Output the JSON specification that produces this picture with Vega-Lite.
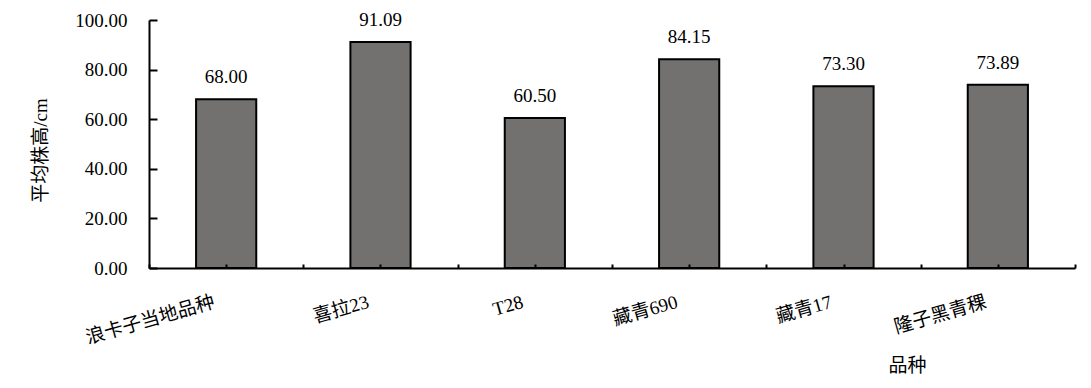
{
  "$schema": "https://vega.github.io/schema/vega-lite/v6.json",
  "width": 926,
  "height": 248,
  "autosize": "none",
  "padding": {"left": 149, "top": 20, "right": 16, "bottom": 120},
  "background": "white",
  "config": {
    "view": {"stroke": null},
    "font": "Liberation Serif, Noto Sans CJK SC"
  },
  "data": {
    "values": [
      {"variety": "浪卡子当地品种", "height": 68.00},
      {"variety": "喜拉23", "height": 91.09},
      {"variety": "T28", "height": 60.50},
      {"variety": "藏青690", "height": 84.15},
      {"variety": "藏青17", "height": 73.30},
      {"variety": "隆子黑青稞", "height": 73.89}
    ]
  },
  "resolve": {"axis": {"x": "independent", "y": "independent"}, "scale": {"x": "independent"}},
  "layer": [
    {
      "mark": {"type": "bar", "fill": "#727170", "stroke": "black", "strokeWidth": 2},
      "encoding": {
        "x": {
          "field": "variety", "type": "nominal", "sort": null,
          "scale": {"paddingInner": 0.61, "paddingOuter": 0.305},
          "axis": {
            "orient": "bottom",
            "zindex": 1,
            "title": "品种",
            "titleFont": "Liberation Serif, Noto Sans CJK SC",
            "titleFontWeight": "normal",
            "titleColor": "black",
            "titleFontSize": 19,
            "titleX": 758,
            "titleY": 97,
            "titleAlign": "center",
            "titleBaseline": "middle",
            "titleAngle": 0,
            "labelFont": "Liberation Serif, Noto Sans CJK SC",
            "labelColor": "black",
            "labelFontSize": 19,
            "labelAngle": -16,
            "labelAlign": "right",
            "labelBaseline": "middle",
            "labelPadding": 33,
            "labelOffset": -12,
            "ticks": false,
            "domain": true,
            "domainColor": "black",
            "domainWidth": 2,
            "labelLimit": 0,
            "grid": false
          }
        },
        "y": {
          "field": "height", "type": "quantitative",
          "scale": {"domain": [0, 100]},
          "axis": {
            "orient": "left",
            "zindex": 1,
            "values": [0, 20, 40, 60, 80, 100],
            "format": ".2f",
            "grid": false,
            "title": "平均株高/cm",
            "titleFont": "Liberation Serif, Noto Sans CJK SC",
            "titleFontWeight": "normal",
            "titleColor": "black",
            "titleFontSize": 19,
            "titleX": -109,
            "titleY": 130,
            "titleAngle": -90,
            "titleAlign": "center",
            "titleBaseline": "middle",
            "labelFont": "Liberation Serif",
            "labelColor": "black",
            "labelFontSize": 19,
            "labelPadding": 22,
            "ticks": false,
            "domain": true,
            "domainColor": "black",
            "domainWidth": 2
          }
        }
      }
    },
    {
      "mark": {"type": "text", "dy": -16, "baseline": "alphabetic", "fontSize": 19, "color": "black", "font": "Liberation Serif"},
      "encoding": {
        "x": {
          "field": "variety", "type": "nominal", "sort": null,
          "scale": {"paddingInner": 0.61, "paddingOuter": 0.305},
          "axis": {
            "orient": "bottom",
            "zindex": 2,
            "offset": -4,
            "labels": false,
            "domain": false,
            "grid": false,
            "title": null,
            "ticks": true,
            "tickColor": "black",
            "tickSize": 4,
            "tickWidth": 2
          }
        },
        "y": {
          "field": "height", "type": "quantitative",
          "axis": {
            "orient": "left",
            "zindex": 2,
            "offset": -8,
            "values": [0, 20, 40, 60, 80, 100],
            "labels": false,
            "domain": false,
            "grid": false,
            "title": null,
            "ticks": true,
            "tickColor": "black",
            "tickSize": 8,
            "tickWidth": 2
          }
        },
        "text": {"field": "height", "type": "quantitative", "format": ".2f"}
      }
    },
    {
      "mark": {"type": "text"},
      "encoding": {
        "x": {
          "field": "variety", "type": "nominal", "sort": null,
          "scale": {"paddingInner": 0, "paddingOuter": 0},
          "axis": {
            "orient": "bottom",
            "zindex": 2,
            "offset": -4,
            "tickBand": "extent",
            "labels": false,
            "domain": false,
            "grid": false,
            "title": null,
            "ticks": true,
            "tickColor": "black",
            "tickSize": 4,
            "tickWidth": 2
          }
        },
        "y": {"field": "height", "type": "quantitative", "axis": null},
        "text": {"value": ""}
      }
    }
  ]
}
